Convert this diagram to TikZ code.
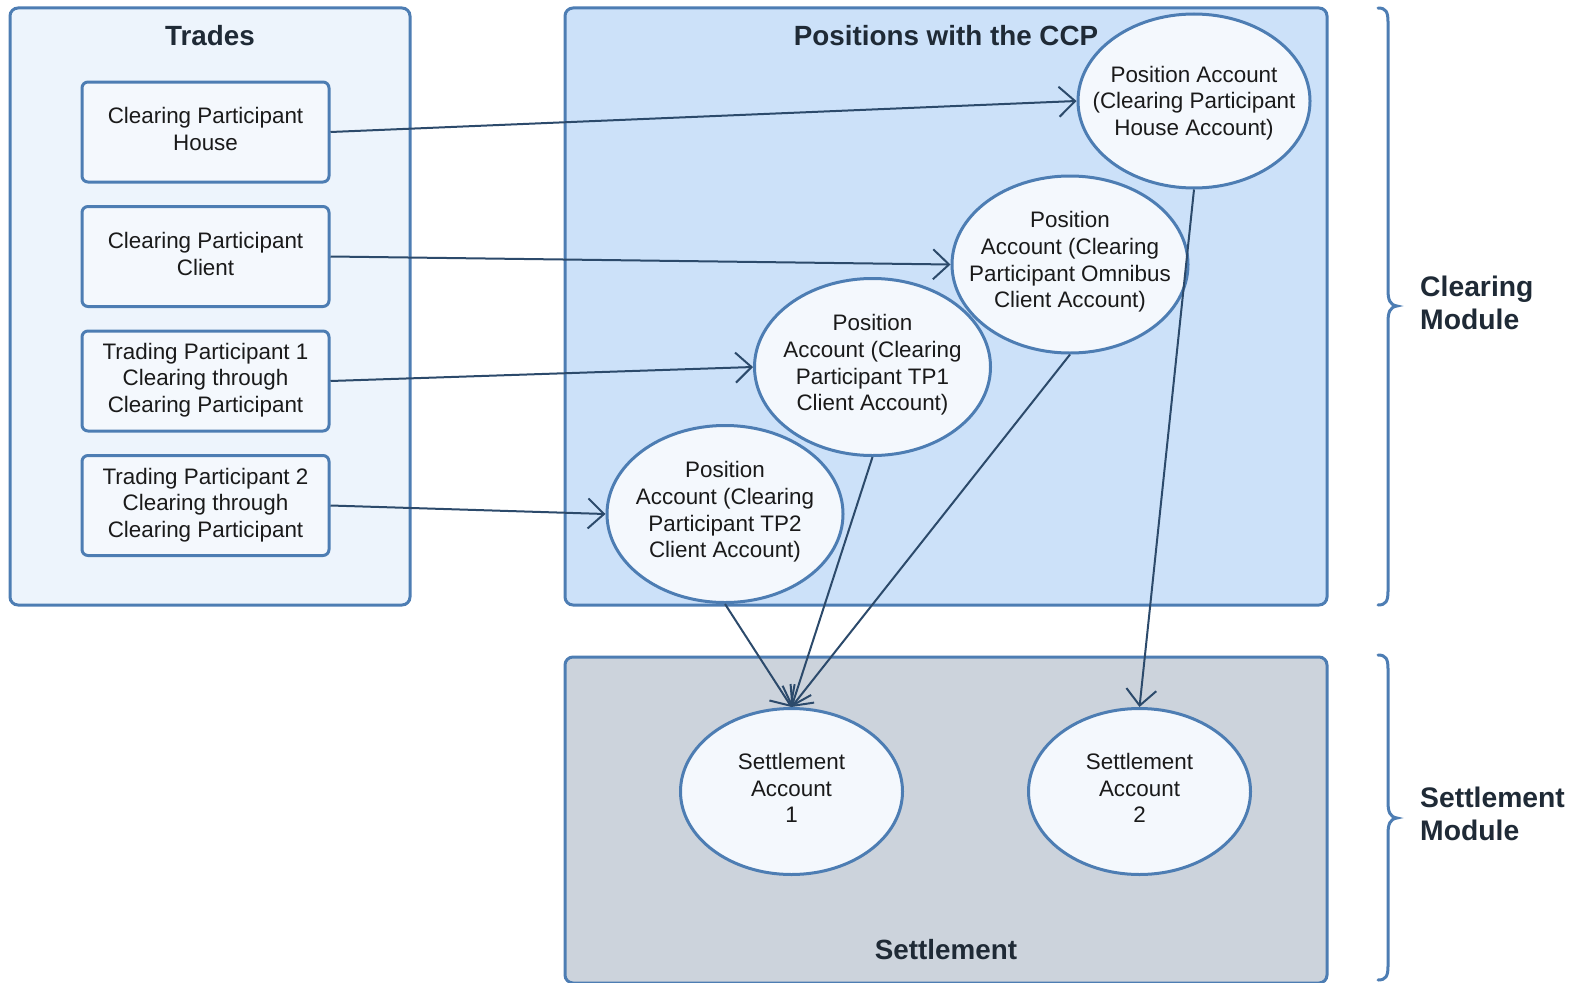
\documentclass[tikz,border=0pt]{standalone}
\usepackage{fontspec}
\setmainfont{Liberation Sans}
\usetikzlibrary{arrows.meta,shapes.geometric}
\definecolor{edgeblue}{HTML}{4D7DB3}
\definecolor{arrowblue}{HTML}{2C4A6B}
\definecolor{tradesfill}{HTML}{EDF4FC}
\definecolor{posfill}{HTML}{CCE1F9}
\definecolor{setfill}{HTML}{CCD3DC}
\definecolor{innerfill}{HTML}{F4F8FD}
\definecolor{titletext}{HTML}{1F2A36}
\definecolor{bodytext}{HTML}{1A1A1A}
\begin{document}
\begin{tikzpicture}[x=1pt,y=-1pt,
  panel/.style={draw=edgeblue,line width=3pt,rounded corners=8pt,inner sep=0pt},
  partybox/.style={draw=edgeblue,line width=3pt,rounded corners=6pt,fill=innerfill,
    minimum width=247pt,minimum height=100pt,inner sep=0pt},
  acct/.style={ellipse,draw=edgeblue,line width=3pt,fill=innerfill,inner sep=0pt,
    minimum width=236pt,minimum height=177pt},
  setacct/.style={acct,minimum width=222pt,minimum height=166pt},
  body/.style={align=center,text=bodytext,inner sep=0pt,
    font=\fontsize{22.4}{26.6}\selectfont},
  title/.style={font=\bfseries\fontsize{27.8}{33}\selectfont,text=titletext,inner sep=0pt},
  flow/.style={draw=arrowblue,line width=2pt,
    -{Straight Barb[length=16pt,width=30pt,line width=2pt]}},
  bracket/.style={draw=edgeblue,line width=3pt,line cap=round}
]
\useasboundingbox (0,0) rectangle (1570,982);

% module panels
\node[panel,fill=tradesfill,minimum width=400pt,minimum height=597pt] (trades) at (210,306.5) {};
\node[panel,fill=posfill,minimum width=762pt,minimum height=597pt] (ccp) at (946,306.5) {};
\node[panel,fill=setfill,minimum width=762pt,minimum height=326pt] (settle) at (946,820) {};

\node[title] (tradesT) at (210,36) {Trades};
\node[title] (ccpT) at (946,36) {Positions with the CCP};
\node[title] (settleT) at (946,950) {Settlement};

% trading parties
\node[partybox] (cpHouse) at (205.5,132) {};
\node[partybox] (cpClient) at (205.5,256.5) {};
\node[partybox] (tp1) at (205.5,381) {};
\node[partybox] (tp2) at (205.5,505.5) {};
\node[body] (cpHouseT) at (205.5,129) {Clearing Participant\\House};
\node[body] (cpClientT) at (205.5,254) {Clearing Participant\\Client};
\node[body] (tp1T) at (205.5,380) {Trading Participant 1\\Clearing through\\Clearing Participant};
\node[body] (tp2T) at (205.5,505) {Trading Participant 2\\Clearing through\\Clearing Participant};

% position accounts
\node[acct,minimum width=232pt,minimum height=174pt] (paHouse) at (1194,101) {};
\node[acct] (paOmni) at (1070,264.5) {};
\node[acct] (paTP1) at (872.5,367) {};
\node[acct] (paTP2) at (725,514) {};
\node[body] (paHouseT) at (1194,103) {Position Account\\(Clearing Participant\\House Account)};
\node[body] (paOmniT) at (1070,262) {Position\\Account (Clearing\\Participant Omnibus\\Client Account)};
\node[body] (paTP1T) at (872.5,365) {Position\\Account (Clearing\\Participant TP1\\Client Account)};
\node[body] (paTP2T) at (725,512) {Position\\Account (Clearing\\Participant TP2\\Client Account)};

% settlement accounts
\node[setacct] (sa1) at (791.5,791.5) {};
\node[setacct] (sa2) at (1139.5,791.5) {};
\node[body] (sa1T) at (791.5,788) {Settlement\\Account\\1};
\node[body] (sa2T) at (1139.5,788) {Settlement\\Account\\2};

% trade flows into positions
\draw[flow] (cpHouse.east) -- (paHouse.west);
\draw[flow] (cpClient.east) -- (paOmni.west);
\draw[flow] (tp1.east) -- (paTP1.west);
\draw[flow] (tp2.east) -- (paTP2.west);

% positions into settlement
\draw[flow] (paTP2.south) -- (sa1.north);
\draw[flow] (paTP1.south) -- (sa1.north);
\draw[flow] (paOmni.south) -- (sa1.north);
\draw[flow] (paHouse.south) -- (sa2.north);

% module braces
\draw[bracket] (1378,8) .. controls (1386,8) and (1388,12) .. (1388,22)
  -- (1388,290) .. controls (1388,300) and (1390,305) .. (1397,306)
  .. controls (1390,307) and (1388,312) .. (1388,322)
  -- (1388,591) .. controls (1388,601) and (1386,605) .. (1378,605);
\draw[bracket] (1378,655) .. controls (1386,655) and (1388,659) .. (1388,669)
  -- (1388,802) .. controls (1388,812) and (1390,817) .. (1397,818)
  .. controls (1390,819) and (1388,824) .. (1388,834)
  -- (1388,966) .. controls (1388,976) and (1386,980) .. (1378,980);

\node[title,anchor=west,align=left,font=\bfseries\fontsize{28.3}{33}\selectfont] (clrMod) at (1420,303) {Clearing\\Module};
\node[title,anchor=west,align=left,font=\bfseries\fontsize{28.3}{33}\selectfont] (setMod) at (1420,814) {Settlement\\Module};
\end{tikzpicture}
\end{document}
